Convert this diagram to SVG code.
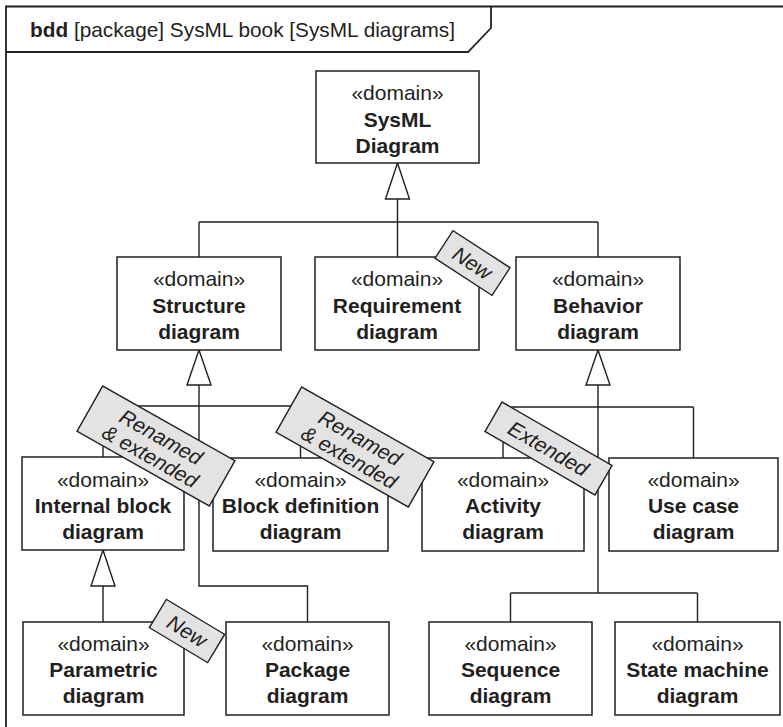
<svg xmlns="http://www.w3.org/2000/svg" width="783" height="727" viewBox="0 0 783 727">
<style>
  .frame { fill: none; stroke: #231f20; stroke-width: 1.8; }
  .box { fill: #ffffff; stroke: #231f20; stroke-width: 1.5; }
  .ln { fill: none; stroke: #231f20; stroke-width: 1.4; }
  .tri { fill: #ffffff; stroke: #231f20; stroke-width: 1.4; }
  .st { font-family: "Liberation Sans", Arial, sans-serif; font-size: 21px; fill: #231f20; text-anchor: middle; }
  .nm { font-family: "Liberation Sans", Arial, sans-serif; font-size: 21px; font-weight: bold; fill: #231f20; text-anchor: middle; }
  .hd { font-family: "Liberation Sans", Arial, sans-serif; font-size: 20.8px; fill: #231f20; }
  .tag { fill: #e3e3e4; stroke: #231f20; stroke-width: 1.4; }
  .tagt { font-family: "Liberation Sans", Arial, sans-serif; font-size: 21px; font-style: italic; fill: #231f20; text-anchor: middle; }
</style>
<rect x="0" y="0" width="783" height="727" fill="#ffffff"/>
<g id="frame">
  <path class="frame" d="M6,727 L6,6.5 L783,6.5"/>
  <path class="frame" d="M6,52 L468,52 L491,28 L491,6.5"/>
  <text class="hd" x="30" y="36.5"><tspan font-weight="bold">bdd</tspan> [package] SysML book [SysML diagrams]</text>
</g>
<g id="connectors">
  <path class="ln" d="M397.5,199 L397.5,257 M199,222 L598,222 M199,222 L199,257 M598,222 L598,257"/>
  <polygon class="tri" points="397.5,163 385.5,199 409.5,199"/>
  <path class="ln" d="M199,385 L199,586 L307.5,586 L307.5,622 M103,406 L300.5,406 M103,406 L103,457 M300.5,406 L300.5,458"/>
  <polygon class="tri" points="199,350 187,385 211,385"/>
  <path class="ln" d="M598,385 L598,593 M510.5,593 L697.5,593 M510.5,593 L510.5,622 M697.5,593 L697.5,622 M503,407 L693.5,407 M503,407 L503,458 M693.5,407 L693.5,458"/>
  <polygon class="tri" points="598,350 586,385 610,385"/>
  <path class="ln" d="M103,586 L103,622"/>
  <polygon class="tri" points="103,550 91,586 115,586"/>
</g>
<g id="sysml-diagram">
  <rect class="box" x="316" y="71" width="163" height="92"/>
  <text class="st" x="397.5" y="100">«domain»</text>
  <text class="nm" x="397.5" y="127">SysML</text>
  <text class="nm" x="397.5" y="153">Diagram</text>
</g>
<g id="structure-diagram">
  <rect class="box" x="117" y="257" width="164" height="93"/>
  <text class="st" x="199" y="286">«domain»</text>
  <text class="nm" x="199" y="313">Structure</text>
  <text class="nm" x="199" y="339">diagram</text>
</g>
<g id="requirement-diagram">
  <rect class="box" x="315" y="257" width="164" height="93"/>
  <text class="st" x="397" y="286">«domain»</text>
  <text class="nm" x="397" y="313">Requirement</text>
  <text class="nm" x="397" y="339">diagram</text>
</g>
<g id="behavior-diagram">
  <rect class="box" x="516" y="257" width="164" height="93"/>
  <text class="st" x="598" y="286">«domain»</text>
  <text class="nm" x="598" y="313">Behavior</text>
  <text class="nm" x="598" y="339">diagram</text>
</g>
<g id="internal-block-diagram">
  <rect class="box" x="22" y="457" width="162" height="93"/>
  <text class="st" x="103" y="487">«domain»</text>
  <text class="nm" x="103" y="513">Internal block</text>
  <text class="nm" x="103" y="539">diagram</text>
</g>
<g id="block-definition-diagram">
  <rect class="box" x="213" y="458" width="175" height="93"/>
  <text class="st" x="300.5" y="487">«domain»</text>
  <text class="nm" x="300.5" y="513">Block definition</text>
  <text class="nm" x="300.5" y="539">diagram</text>
</g>
<g id="activity-diagram">
  <rect class="box" x="422" y="458" width="162" height="93"/>
  <text class="st" x="503" y="487">«domain»</text>
  <text class="nm" x="503" y="513">Activity</text>
  <text class="nm" x="503" y="539">diagram</text>
</g>
<g id="use-case-diagram">
  <rect class="box" x="609" y="458" width="169" height="93"/>
  <text class="st" x="693.5" y="487">«domain»</text>
  <text class="nm" x="693.5" y="513">Use case</text>
  <text class="nm" x="693.5" y="539">diagram</text>
</g>
<g id="parametric-diagram">
  <rect class="box" x="23" y="622" width="161" height="93"/>
  <text class="st" x="103.5" y="651">«domain»</text>
  <text class="nm" x="103.5" y="677">Parametric</text>
  <text class="nm" x="103.5" y="703">diagram</text>
</g>
<g id="package-diagram">
  <rect class="box" x="226" y="622" width="163" height="93"/>
  <text class="st" x="307.5" y="651">«domain»</text>
  <text class="nm" x="307.5" y="677">Package</text>
  <text class="nm" x="307.5" y="703">diagram</text>
</g>
<g id="sequence-diagram">
  <rect class="box" x="429" y="622" width="163" height="93"/>
  <text class="st" x="510.5" y="651">«domain»</text>
  <text class="nm" x="510.5" y="677">Sequence</text>
  <text class="nm" x="510.5" y="703">diagram</text>
</g>
<g id="state-machine-diagram">
  <rect class="box" x="615" y="622" width="165" height="93"/>
  <text class="st" x="697.5" y="651">«domain»</text>
  <text class="nm" x="697.5" y="677">State machine</text>
  <text class="nm" x="697.5" y="703">diagram</text>
</g>
<g id="tag-new-requirement" transform="translate(472.5,263) rotate(33)">
  <rect class="tag" x="-34" y="-16.5" width="68" height="33"/>
  <text class="tagt" x="0" y="7.5">New</text>
</g>
<g id="tag-renamed-ibd" transform="translate(156,446) rotate(29.5)">
  <rect class="tag" x="-76" y="-26" width="152" height="52"/>
  <text class="tagt" x="0" y="-3">Renamed</text>
  <text class="tagt" x="0" y="19">&amp; extended</text>
</g>
<g id="tag-renamed-bdd" transform="translate(355,447) rotate(29.5)">
  <rect class="tag" x="-76" y="-26" width="152" height="52"/>
  <text class="tagt" x="0" y="-3">Renamed</text>
  <text class="tagt" x="0" y="19">&amp; extended</text>
</g>
<g id="tag-extended-activity" transform="translate(548.5,448.5) rotate(30)">
  <rect class="tag" x="-63.5" y="-17" width="127" height="34"/>
  <text class="tagt" x="0" y="7.5">Extended</text>
</g>
<g id="tag-new-parametric" transform="translate(187,631) rotate(31)">
  <rect class="tag" x="-34" y="-16.5" width="68" height="33"/>
  <text class="tagt" x="0" y="7.5">New</text>
</g>
</svg>
